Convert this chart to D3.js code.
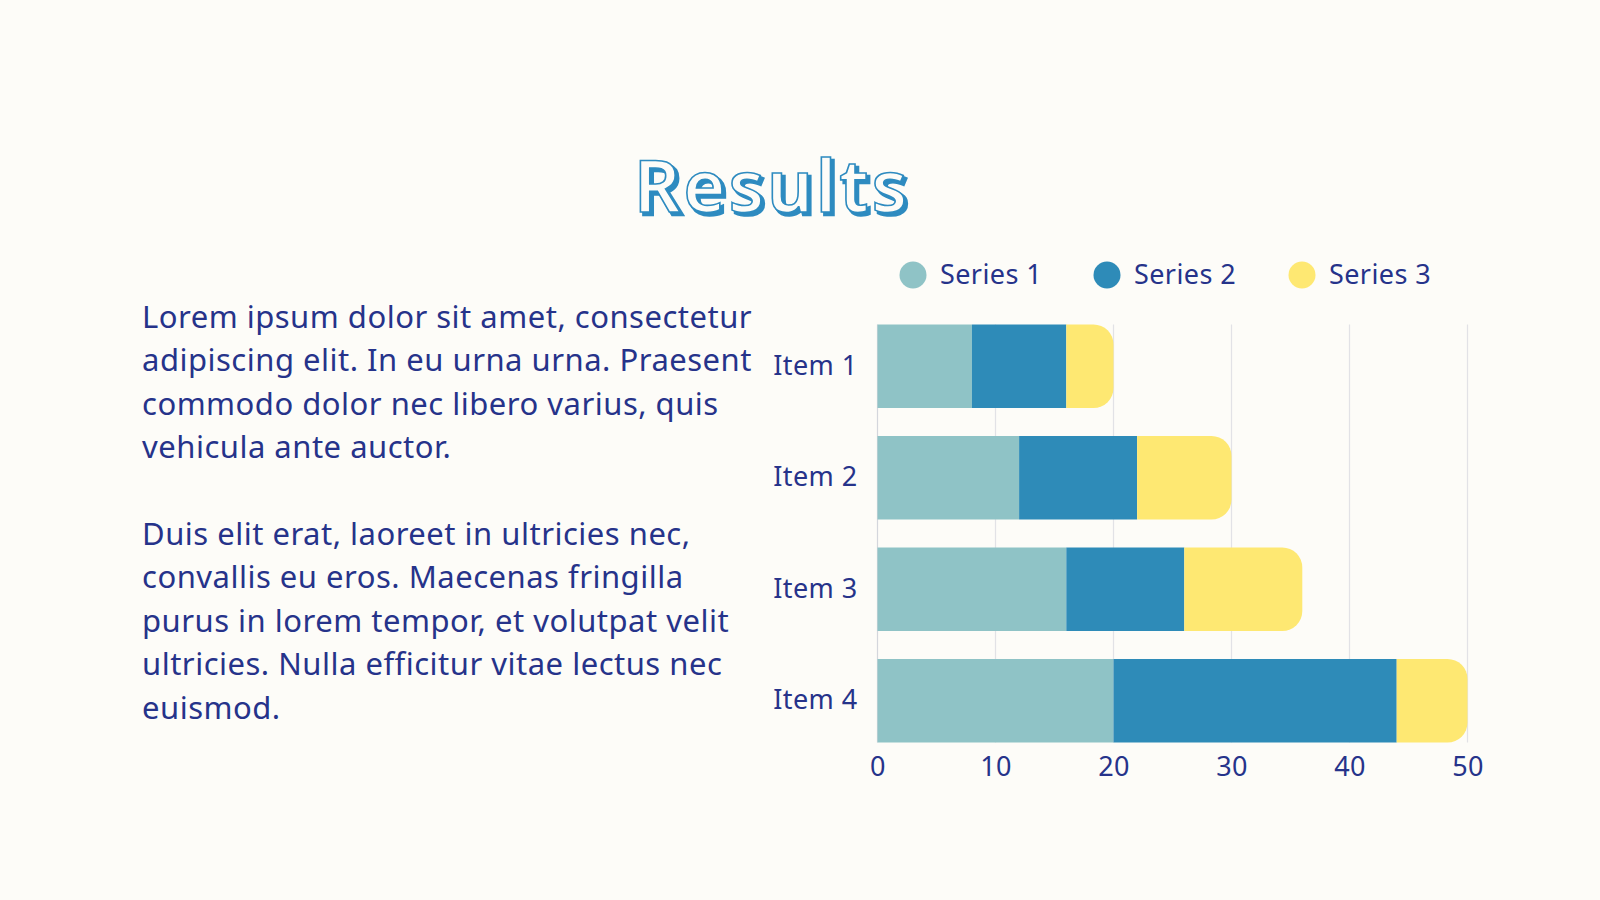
<!DOCTYPE html>
<html>
<head>
<meta charset="utf-8">
<script src="https://cdn.jsdelivr.net/npm/d3@7"></script>
<style>
  html, body { margin: 0; padding: 0; background: #fdfcf8; }
  svg { display: block; }
</style>
</head>
<body>
<svg id="chart"></svg>
<script>
// data
const items = ["Item 1", "Item 2", "Item 3", "Item 4"];
const seriesNames = ["Series 1", "Series 2", "Series 3"];
const series1 = [8, 12, 16, 20];
const series2 = [8, 10, 10, 24];
const series3 = [4, 8, 10, 6];
const xTicks = [0, 10, 20, 30, 40, 50];
const colors = ["#8fc3c6", "#2e8bb8", "#fee872"];

const paragraph1 = [
  "Lorem ipsum dolor sit amet, consectetur",
  "adipiscing elit. In eu urna urna. Praesent",
  "commodo dolor nec libero varius, quis",
  "vehicula ante auctor."
];
const paragraph2 = [
  "Duis elit erat, laoreet in ultricies nec,",
  "convallis eu eros. Maecenas fringilla",
  "purus in lorem tempor, et volutpat velit",
  "ultricies. Nulla efficitur vitae lectus nec",
  "euismod."
];

const width = 1600, height = 900;
const textColor = "#26338a";
const font = "'Noto Sans', sans-serif";

const svg = d3.select('#chart')
  .attr('width', width)
  .attr('height', height)
  .style('background', '#fdfcf8');

// title, outlined with a small blue shadow
const title = svg.append('g')
  .attr('font-family', "'Noto Sans', sans-serif")
  .attr('font-weight', 600)
  .attr('font-size', 72)
  .attr('letter-spacing', 3)
  .attr('text-anchor', 'middle');
title.append('text')
  .attr('x', 775).attr('y', 215)
  .attr('fill', '#2e8bc0')
  .attr('stroke', '#2e8bc0')
  .attr('stroke-width', 2.5)
  .text('Results');
title.append('text')
  .attr('x', 772).attr('y', 212)
  .attr('fill', '#fdfcf8')
  .attr('stroke', '#2e8bc0')
  .attr('stroke-width', 1.6)
  .text('Results');

// paragraph text
const para = svg.append('g')
  .attr('font-family', font)
  .attr('font-size', 31)
  .attr('letter-spacing', 0.5)
  .attr('fill', textColor);

para.selectAll('text.p1')
  .data(paragraph1)
  .enter().append('text')
  .attr('class', 'p1')
  .attr('x', 142)
  .attr('y', (d, i) => 328 + i * 43.4)
  .text(d => d);

para.selectAll('text.p2')
  .data(paragraph2)
  .enter().append('text')
  .attr('class', 'p2')
  .attr('x', 142)
  .attr('y', (d, i) => 545 + i * 43.4)
  .text(d => d);

// chart
const x = d3.scaleLinear().domain([0, 50]).range([877.5, 1467.5]);
const y = d3.scaleBand().domain(items).range([324.5, 742.5]).paddingInner(0.25).paddingOuter(0);

const g = svg.append('g');

g.selectAll('line.grid')
  .data(xTicks)
  .enter().append('line')
  .attr('class', 'grid')
  .attr('x1', d => x(d)).attr('x2', d => x(d))
  .attr('y1', y.range()[0]).attr('y2', y.range()[1])
  .attr('stroke', d => d === 0 ? '#d4d6dc' : '#e2e2e6')
  .attr('stroke-width', 1.2);

const table = items.map((item, i) => ({
  item: item,
  "Series 1": series1[i],
  "Series 2": series2[i],
  "Series 3": series3[i]
}));
const stacked = d3.stack().keys(seriesNames)(table);

const r = 20;
stacked.forEach((layer, si) => {
  const last = si === stacked.length - 1;
  g.selectAll('path.s' + si)
    .data(layer)
    .enter().append('path')
    .attr('class', 's' + si)
    .attr('fill', colors[si])
    .attr('d', d => {
      const x0 = x(d[0]), x1 = x(d[1]);
      const y0 = y(d.data.item), h = y.bandwidth();
      if (!last) return `M${x0},${y0}H${x1}V${y0 + h}H${x0}Z`;
      const rr = Math.min(r, (x1 - x0));
      return `M${x0},${y0}H${x1 - rr}A${rr},${rr} 0 0 1 ${x1},${y0 + rr}` +
        `V${y0 + h - rr}A${rr},${rr} 0 0 1 ${x1 - rr},${y0 + h}H${x0}Z`;
    });
});

// axes
const xAxis = g.append('g')
  .attr('transform', `translate(0,${y.range()[1]})`)
  .call(d3.axisBottom(x).tickValues(xTicks).tickSize(0).tickPadding(14));
xAxis.select('.domain').remove();
xAxis.selectAll('text')
  .attr('font-family', font)
  .attr('font-size', 27)
  .attr('letter-spacing', 0.4)
  .attr('fill', textColor);

const yAxis = g.append('g')
  .attr('transform', `translate(${x(0)},0)`)
  .call(d3.axisLeft(y).tickSize(0).tickPadding(20));
yAxis.select('.domain').remove();
yAxis.selectAll('text')
  .attr('font-family', font)
  .attr('font-size', 27)
  .attr('letter-spacing', 0.4)
  .attr('fill', textColor);

// legend
const legendX = [913, 1107, 1302];
const legend = svg.append('g')
  .selectAll('g')
  .data(seriesNames)
  .enter().append('g')
  .attr('transform', (d, i) => `translate(${legendX[i]},275)`);
legend.append('circle')
  .attr('r', 13.5)
  .attr('fill', (d, i) => colors[i]);
legend.append('text')
  .attr('x', 27)
  .attr('dy', '0.35em')
  .attr('font-family', font)
  .attr('font-size', 27)
  .attr('letter-spacing', 0.4)
  .attr('fill', textColor)
  .text(d => d);
</script>
</body>
</html>
